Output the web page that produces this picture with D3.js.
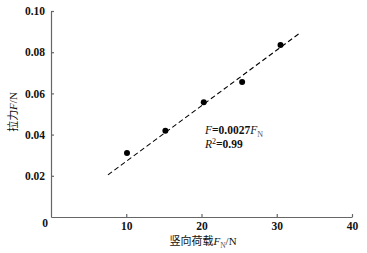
<!DOCTYPE html>
<html><head><meta charset="utf-8">
<script src="https://cdn.jsdelivr.net/npm/d3@7"></script>
<style>body{margin:0;background:#fff}svg{display:block}</style>
</head><body>
<svg id="c" width="367" height="253"></svg>
<script>
const loadN = [10.1, 15.2, 20.3, 25.4, 30.5];
const forceF = [0.0311, 0.0419, 0.0557, 0.0655, 0.0835];
const fitSlope = 0.0027;
const fitRange = [7.57, 33.0];
const xTicks = [10, 20, 30, 40];
const yTicks = [0.02, 0.04, 0.06, 0.08, 0.10];

const svg = d3.select("#c");
const x = d3.scaleLinear().domain([0, 40]).range([51, 352]);
const y = d3.scaleLinear().domain([0, 0.10]).range([217, 11]);
const serif = "'Liberation Serif','Times New Roman',serif";
const axisColor = "#666";

const gx = svg.append("g").attr("transform", `translate(0,${y(0)})`)
  .call(d3.axisBottom(x).tickValues(xTicks).tickSizeInner(-3).tickSizeOuter(0).tickPadding(5).tickFormat(d3.format("d")));
const gy = svg.append("g").attr("transform", `translate(${x(0)},0)`)
  .call(d3.axisLeft(y).tickValues(yTicks).tickSizeInner(-3).tickSizeOuter(0).tickPadding(6).tickFormat(d3.format(".2f")));
[gx, gy].forEach(g => {
  g.select(".domain").attr("stroke", axisColor).attr("stroke-width", 1.2);
  g.selectAll(".tick line").attr("stroke", axisColor).attr("stroke-width", 1.2);
  g.selectAll("text").attr("font-family", serif).attr("font-weight", "bold").attr("font-size", 11.5).attr("fill", "#111");
});
svg.append("text").attr("x", 45).attr("y", 227).attr("text-anchor", "middle")
  .attr("font-family", serif).attr("font-weight", "bold").attr("font-size", 11.5).attr("fill", "#111").text("0");

// fit line
svg.append("line")
  .attr("x1", x(fitRange[0])).attr("y1", y(fitSlope * fitRange[0]))
  .attr("x2", x(fitRange[1])).attr("y2", y(fitSlope * fitRange[1]))
  .attr("stroke", "#000").attr("stroke-width", 1.1).attr("stroke-dasharray", "5,3");

svg.selectAll("circle.p").data(loadN).enter().append("circle")
  .attr("cx", d => x(d)).attr("cy", (d, i) => y(forceF[i])).attr("r", 3).attr("fill", "#000");

// equation
const eq = svg.append("text").attr("x", 205).attr("y", 134).attr("font-family", serif).attr("font-size", 11.5).attr("fill", "#111");
eq.append("tspan").attr("font-style", "italic").text("F");
eq.append("tspan").attr("font-weight", "bold").text("=0.0027");
eq.append("tspan").attr("font-style", "italic").text("F");
eq.append("tspan").attr("font-size", 8).attr("dy", 3).attr("fill", "#555").text("N");
const r2 = svg.append("text").attr("x", 205).attr("y", 148).attr("font-family", serif).attr("font-size", 11.5).attr("fill", "#111");
r2.append("tspan").attr("font-style", "italic").text("R");
r2.append("tspan").attr("font-size", 8).attr("dy", -4).text("2");
r2.append("tspan").attr("font-weight", "bold").attr("dy", 4).text("=0.99");

// axis titles
const cjk = "'Noto Sans CJK SC','Liberation Serif',serif";
const xt = svg.append("text").attr("x", 203).attr("y", 245).attr("text-anchor", "middle").attr("font-size", 11).attr("fill", "#111");
xt.append("tspan").attr("font-family", cjk).text("竖向荷载");
xt.append("tspan").attr("font-family", serif).attr("font-style", "italic").text("F");
xt.append("tspan").attr("font-family", serif).attr("font-size", 7.5).attr("dy", 3).attr("fill", "#555").text("N");
xt.append("tspan").attr("font-family", serif).attr("dy", -3).text("/N");

const yt = svg.append("text").attr("transform", "translate(17,112) rotate(-90)").attr("text-anchor", "middle").attr("font-size", 11).attr("fill", "#111");
yt.append("tspan").attr("font-family", cjk).text("拉力");
yt.append("tspan").attr("font-family", serif).attr("font-style", "italic").text("F");
yt.append("tspan").attr("font-family", serif).text("/N");
</script>
</body></html>
